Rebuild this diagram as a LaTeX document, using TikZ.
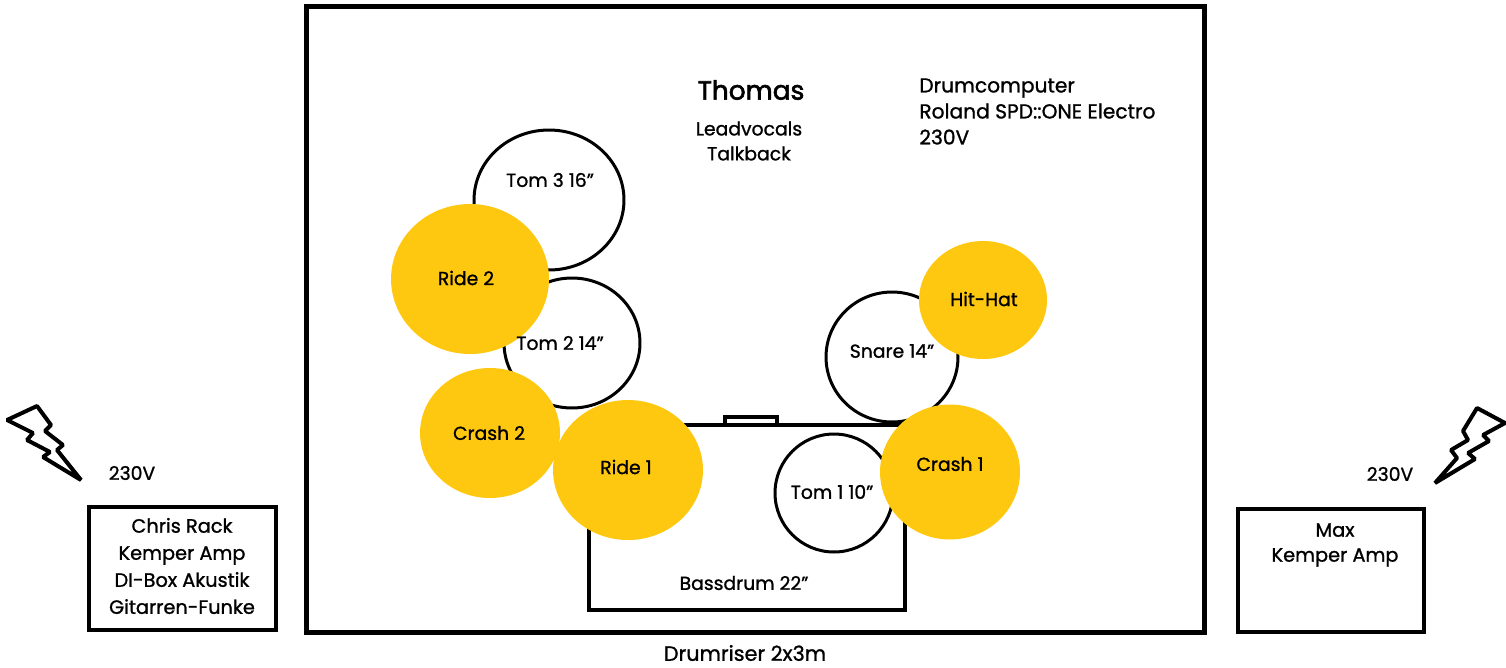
\documentclass[tikz,border=0pt]{standalone}
\usepackage{fontspec}
\setmainfont{Poppins}[RawFeature={embolden=1.1}]
\newfontfamily\namefont{Poppins}[RawFeature={embolden=2.2}]
\usetikzlibrary{shapes.geometric}

\definecolor{cymbal}{RGB}{255,200,16}

\tikzset{
	drum/.style={ellipse, draw=black, line width=0.06cm, fill=white, inner sep=0pt},
	cymbalplate/.style={ellipse, fill=cymbal, inner sep=0pt},
	gear/.style={draw=black, line width=0.065cm, fill=white},
	lbl/.style={font=\fontsize{10.7}{14.2}\selectfont, align=center, inner sep=0pt},
	bolt/.style={draw=black, line width=0.08cm, line join=bevel, fill=white},
}

\begin{document}
\begin{tikzpicture}[x=0.02cm,y=-0.02cm]
	\useasboundingbox (0,0) rectangle (1506,667);

	\draw[line width=0.1cm] (306,6) rectangle (1204,632);

	% bassdrum
	\draw[gear] (725,417) rectangle (777,425);
	\node[gear, minimum width=6.32cm, minimum height=3.7cm] at (747,517.5) (bass) {};
	\node[lbl] at (744,583) (basslbl) {Bassdrum 22"};

	% toms and snare
	\node[drum, minimum width=3cm, minimum height=2.8cm] at (549,200) (tom3) {};
	\node[drum, minimum width=2.72cm, minimum height=2.6cm] at (572,343) (tom2) {};
	\node[drum, minimum width=2.64cm, minimum height=2.6cm] at (892,357) (snare) {};
	\node[drum, minimum width=2.36cm, minimum height=2.36cm] at (834,493) (tom1) {};

	% cymbals
	\node[cymbalplate, minimum width=3.16cm, minimum height=3cm] at (470,279) (ride2) {};
	\node[cymbalplate, minimum width=2.8cm, minimum height=2.6cm] at (490,433) (crash2) {};
	\node[cymbalplate, minimum width=3cm, minimum height=2.8cm] at (628,470) (ride1) {};
	\node[cymbalplate, minimum width=2.56cm, minimum height=2.36cm] at (983,300) (hihat) {};
	\node[cymbalplate, minimum width=2.8cm, minimum height=2.7cm] at (950,472) (crash1) {};

	\node[lbl] at (550,180) (tom3lbl) {Tom 3 16"};
	\node[lbl] at (560,343) (tom2lbl) {Tom 2 14"};
	\node[lbl] at (892,351) (snarelbl) {Snare 14"};
	\node[lbl] at (832,492) (tom1lbl) {Tom 1 10"};
	\node[lbl] at (466,278) (ride2lbl) {Ride 2};
	\node[lbl] at (489,433) (crash2lbl) {Crash 2};
	\node[lbl] at (626,467) (ride1lbl) {Ride 1};
	\node[lbl] at (984,299) (hihatlbl) {Hit-Hat};
	\node[lbl] at (950,464) (crash1lbl) {Crash 1};

	% vocals and drumcomputer
	\node[lbl, font=\namefont\fontsize{15}{18}\selectfont] at (751,90) (thomas) {Thomas};
	\node[lbl] at (749,141) (vocals) {Leadvocals\\Talkback};
	\node[lbl, align=left, anchor=north west, font=\fontsize{11.5}{14.8}\selectfont] at (919,78) (drumcomp) {Drumcomputer\\Roland SPD::ONE Electro\\230V};

	% amps left and right
	\node[gear, minimum width=3.74cm, minimum height=2.46cm] at (182.5,568.5) (chris) {};
	\node[lbl, font=\fontsize{11}{15.4}\selectfont] at (182,566) (chrislbl) {Chris Rack\\Kemper Amp\\DI-Box Akustik\\Gitarren-Funke};
	\node[gear, minimum width=3.72cm, minimum height=2.46cm] at (1331,570.5) (max) {};
	\node[lbl, font=\fontsize{11}{14.2}\selectfont] at (1335,545) (maxlbl) {Max\\Kemper Amp};

	\node[lbl] at (132,473) (voltl) {230V};
	\node[lbl] at (1390,474) (voltr) {230V};

	% power
	\draw[bolt] (7,420) -- (37,406) -- (51,425) -- (45,431) -- (63,445) -- (57,450) -- (81,480) -- (43,457) -- (50,452) -- (27,440) -- (33,433) -- cycle;
	\draw[bolt] (1477,408) -- (1505,423) -- (1483,435) -- (1489,441) -- (1468,453) -- (1475,459) -- (1435,483) -- (1457,458) -- (1451,450) -- (1468,440) -- (1463,431) -- cycle;

	\node[lbl, font=\fontsize{11.8}{14}\selectfont] at (745,653) (riser) {Drumriser 2x3m};
\end{tikzpicture}
\end{document}
